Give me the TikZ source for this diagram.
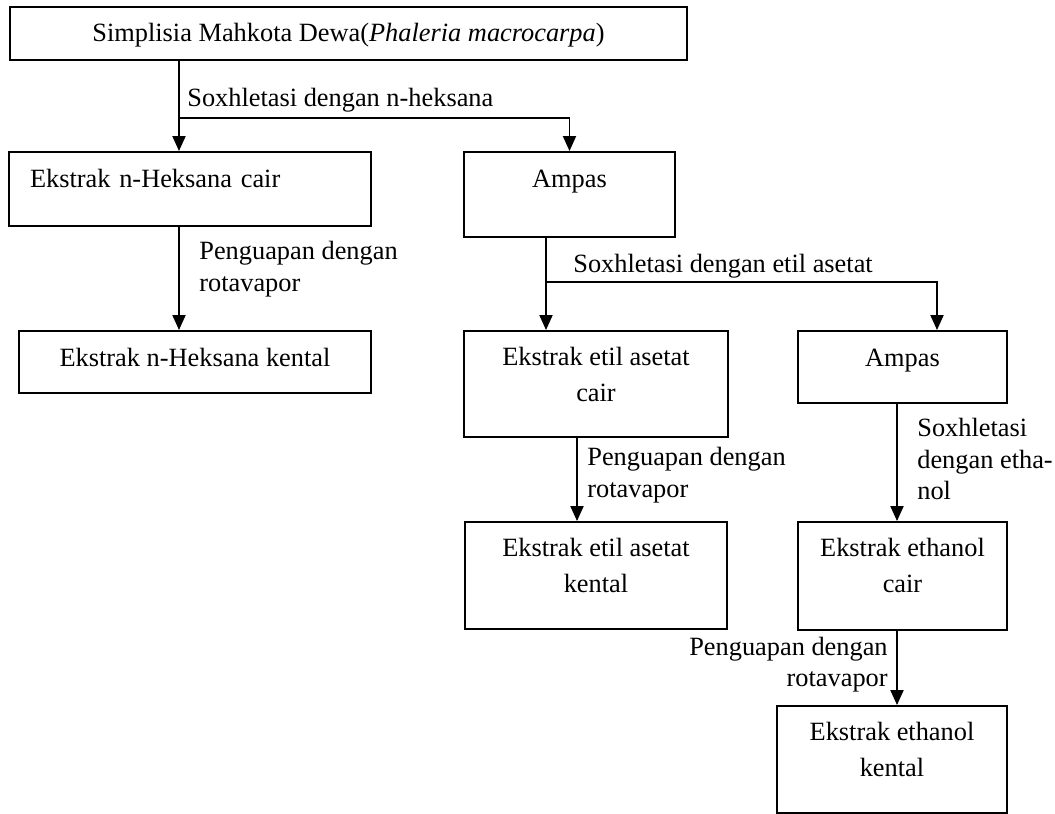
\documentclass[tikz,border=0pt]{standalone}
\usepackage{fontspec}
\setmainfont{Liberation Serif}
\usepackage{tikz}
\usetikzlibrary{arrows.meta}

\begin{document}
\begin{tikzpicture}[
    every node/.style={font=\fontsize{15}{20}\selectfont},
    stage/.style={rectangle, draw, line width=1.1pt, inner ysep=0pt, text height=0.70cm, align=center},
    stagetwo/.style={stage, text height=1.40cm},
    lbl/.style={inner sep=0pt, align=left, font=\fontsize{15}{18}\selectfont},
    arr/.style={-{Triangle[width=0.26cm, length=0.3cm]}, line width=1.1pt}
]
    \useasboundingbox (0,0) rectangle (21.1,-16.28);

    % Boxes
    \node[stage, minimum width=13.54cm, text depth=0.36cm] (simplisia) at (6.97,-0.67) {Simplisia Mahkota Dewa(\textit{Phaleria macrocarpa})};
    \node[stage, text width=6.40cm, inner xsep=0.42cm, align=left, text depth=0.78cm] (hcair) at (3.80,-3.78) {Ekstrak n-Heksana cair};
    \node[stage, minimum width=7.04cm, text depth=0.54cm] (hkental) at (3.90,-7.24) {Ekstrak n-Heksana kental};
    \node[stage, minimum width=4.22cm, text depth=1.00cm] (ampas1) at (11.39,-3.89) {Ampas};
    \node[stagetwo, minimum width=5.28cm, text depth=0.72cm] (etilcair) at (11.92,-7.68) {Ekstrak etil asetat\\cair};
    \node[stage, minimum width=4.18cm, text depth=0.74cm] (ampas2) at (18.05,-7.34) {Ampas};
    \node[stagetwo, minimum width=5.24cm, text depth=0.74cm] (etilkental) at (11.92,-11.51) {Ekstrak etil asetat\\kental};
    \node[stagetwo, minimum width=4.18cm, text depth=0.76cm] (ethcair) at (18.05,-11.52) {Ekstrak ethanol\\cair};
    \node[stagetwo, minimum width=4.60cm, text depth=0.74cm] (ethkental) at (17.84,-15.19) {Ekstrak ethanol\\kental};

    % Branch points and columns
    \coordinate (split1) at (3.58,-2.36);
    \coordinate (split2) at (10.92,-5.64);
    \coordinate (split2r) at (18.74,-5.64);
    \coordinate (col3) at (11.54,0);
    \coordinate (col4) at (17.94,0);

    % Labels
    \node[lbl, anchor=west] (sox1) at (3.74,-2.00) {Soxhletasi dengan n-heksana};
    \node[lbl, anchor=west] (uap1) at (3.98,-5.38) {Penguapan dengan\\rotavapor};
    \node[lbl, anchor=west] (sox2) at (11.46,-5.32) {Soxhletasi dengan etil asetat};
    \node[lbl, anchor=west] (uap2) at (11.74,-9.50) {Penguapan dengan\\rotavapor};
    \node[lbl, anchor=west] (sox3) at (18.34,-9.18) {Soxhletasi\\dengan etha-\\nol};
    \node[lbl, anchor=east, align=right] (uap3) at (17.76,-13.29) {Penguapan dengan\\rotavapor};

    % Arrows
    \draw[line width=1.1pt] (simplisia.south -| split1) -- (split1);
    \draw[arr] (split1) -- (hcair.north -| split1);
    \draw[arr] (split1) -| (ampas1.north);
    \draw[arr] (hcair.south -| split1) -- (hkental.north -| split1);
    \draw[line width=1.1pt] (ampas1.south -| split2) -- (split2);
    \draw[arr] (split2) -- (etilcair.north -| split2);
    \draw[arr] (split2) -| (ampas2.north -| split2r);
    \draw[arr] (etilcair.south -| col3) -- (etilkental.north -| col3);
    \draw[arr] (ampas2.south -| col4) -- (ethcair.north -| col4);
    \draw[arr] (ethcair.south -| col4) -- (ethkental.north -| col4);
\end{tikzpicture}
\end{document}
